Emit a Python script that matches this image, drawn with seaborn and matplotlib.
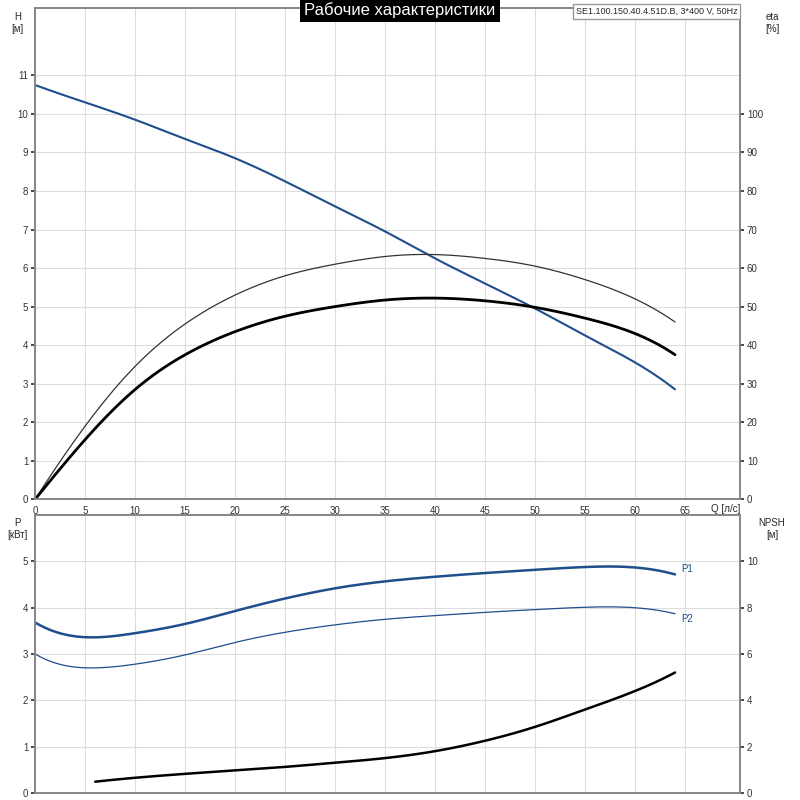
import numpy as np
import matplotlib
matplotlib.use("Agg")
import matplotlib.pyplot as plt
import seaborn as sns
import pandas as pd

sns.set_theme(style="whitegrid")
plt.rcParams['font.family'] = ['Liberation Sans', 'DejaVu Sans']

q = [0, 5, 10, 15, 20, 25, 30, 35, 40, 45, 50, 55, 60, 64]
head = [10.75, 10.3, 9.85, 9.35, 8.85, 8.25, 7.6, 6.95, 6.25, 5.6, 4.95, 4.25, 3.55, 2.85]
eta_pump = [0, 19, 34.5, 45.5, 53, 58, 61, 63, 63.5, 62.5, 60.5, 57, 52, 46]
eta_total = [0, 15.5, 28.5, 37.5, 43.5, 47.5, 50, 51.7, 52.2, 51.5, 49.8, 47, 43, 37.5]
qp = [0, 3, 6, 10, 15, 20, 25, 30, 35, 40, 45, 50, 55, 60, 64]
p1 = [3.68, 3.42, 3.36, 3.45, 3.65, 3.93, 4.2, 4.42, 4.57, 4.67, 4.75, 4.82, 4.88, 4.87, 4.72]
p2 = [3.0, 2.75, 2.7, 2.78, 2.98, 3.25, 3.47, 3.63, 3.75, 3.83, 3.9, 3.96, 4.01, 4.0, 3.87]
qn = [6, 10, 15, 20, 25, 30, 35, 40, 45, 50, 55, 60, 64]
npsh = [0.48, 0.65, 0.82, 0.97, 1.12, 1.3, 1.5, 1.8, 2.25, 2.85, 3.6, 4.4, 5.2]

blue = "#1f4e8c"
fig = plt.figure(figsize=(8, 8), dpi=100)
ax = fig.add_axes([0.044, 0.376, 0.881, 0.614])
ax2 = ax.twinx()
bx = fig.add_axes([0.044, 0.009, 0.881, 0.347])
bx2 = bx.twinx()

def smooth(x, y, n=200):
    xs = np.linspace(min(x), max(x), n)
    from numpy.polynomial import polynomial as P
    return xs, np.interp(xs, x, y)

def sline(a, x, y, **kw):
    xs = np.linspace(min(x), max(x), 300)
    # cubic interpolation via pandas
    s = pd.Series(y, index=x, dtype=float)
    s = s.reindex(sorted(set(list(x) + list(xs)))).interpolate(method="cubic") if len(x) > 3 else s
    sns.lineplot(x=s.index, y=s.values, ax=a, **kw)

sline(ax, q, head, color=blue, linewidth=1.5)
sline(ax2, q, eta_pump, color="#333333", linewidth=0.9)
sline(ax2, q, eta_total, color="black", linewidth=2)
sline(bx, qp, p1, color=blue, linewidth=1.8)
sline(bx, qp, p2, color=blue, linewidth=0.9)
sline(bx2, qn, npsh, color="black", linewidth=1.8)

for a in (ax, ax2, bx, bx2):
    a.set_xlim(0, 70.5)
    a.grid(False)
    for s in a.spines.values():
        s.set_color("#888888")
for a in (ax, bx):
    a.set_xticks(range(0, 70, 5))
    a.grid(True, color="#dddddd", linewidth=0.8)
ax.set_ylim(0, 12.75)
ax2.set_ylim(0, 127.5)
ax.set_yticks(range(0, 12))
ax2.set_yticks(range(0, 101, 10))
ax.set_xticklabels([str(v) for v in range(0, 70, 5)])
bx.set_xticklabels([])
bx.set_ylim(0, 6)
bx2.set_ylim(0, 12)
bx.set_yticks(range(0, 6))
bx2.set_yticks(range(0, 11, 2))
for a in (ax, ax2, bx, bx2):
    a.tick_params(labelsize=7, length=3, pad=2, colors="#333333")
    a.set_xlabel(""); a.set_ylabel("")

fig.text(0.022, 0.985, "H\n[м]", fontsize=7, ha="center", va="top")
fig.text(0.965, 0.985, "eta\n[%]", fontsize=7, ha="center", va="top")
fig.text(0.022, 0.352, "P\n[кВт]", fontsize=7, ha="center", va="top")
fig.text(0.965, 0.352, "NPSH\n[м]", fontsize=7, ha="center", va="top")
fig.text(0.925, 0.364, "Q [л/с]", fontsize=7, ha="right", va="center")
fig.text(0.5, 0.987, "Рабочие характеристики", fontsize=12, color="white", ha="center", va="center",
         bbox=dict(facecolor="black", edgecolor="none", pad=3))
fig.text(0.922, 0.991, "SE1.100.150.40.4.51D.B, 3*400 V, 50Hz", fontsize=6.5, ha="right", va="top",
         bbox=dict(facecolor="white", edgecolor="#999999", pad=2))
bx.text(64.6, 4.78, "P1", fontsize=7, color=blue)
bx.text(64.6, 3.7, "P2", fontsize=7, color=blue)
fig.savefig("out.png", dpi=100)
